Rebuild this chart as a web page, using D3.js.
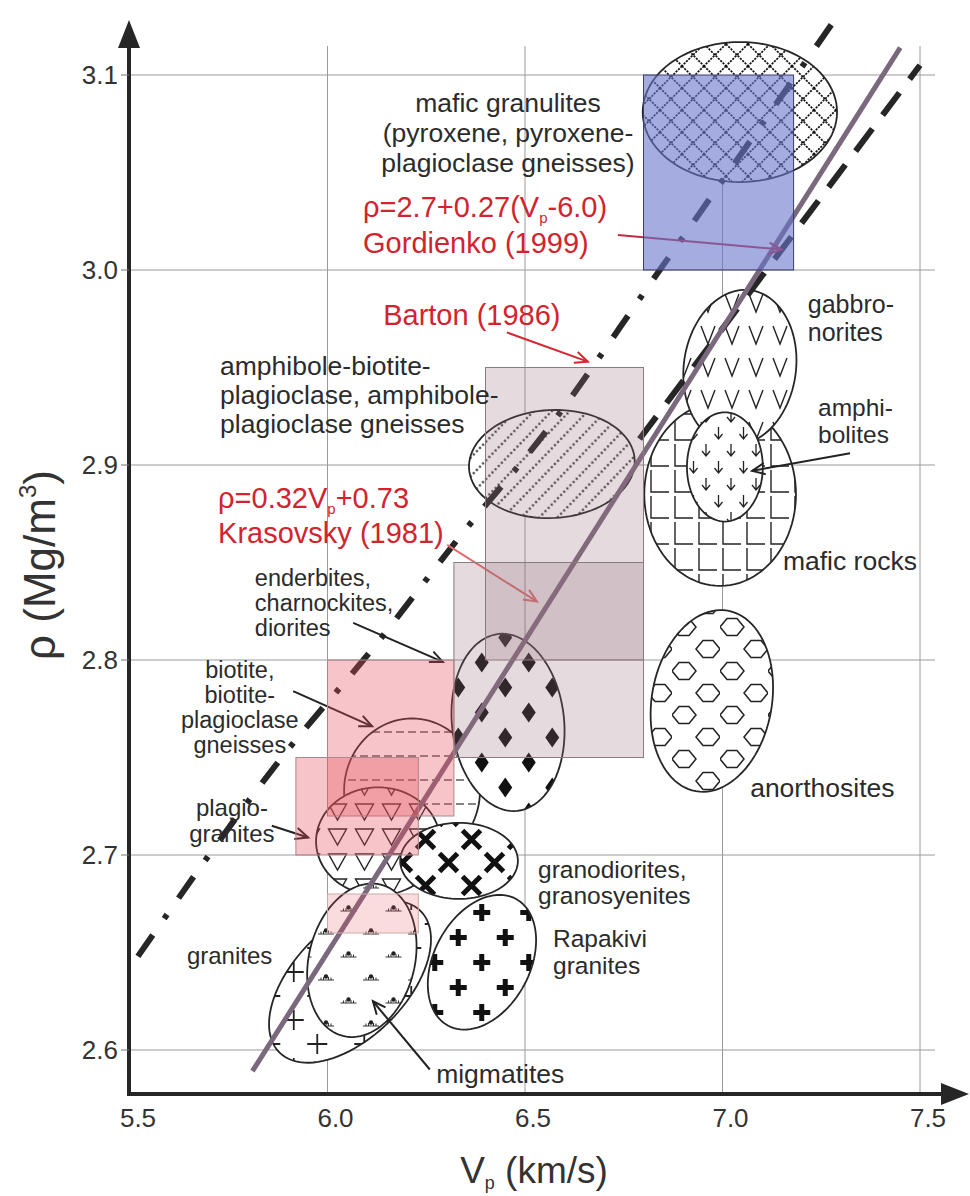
<!DOCTYPE html>
<html>
<head>
<meta charset="utf-8">
<script src="https://cdn.jsdelivr.net/npm/d3@7"></script>
<style>
  body { margin: 0; background: #fff; }
  text { font-family: "Liberation Sans", Arial, Helvetica, sans-serif; }
</style>
</head>
<body>
<svg id="chart" width="970" height="1196"></svg>
<script>
// ---- axes ----
const xTicks = [5.5, 6.0, 6.5, 7.0, 7.5];
const yTicks = [2.6, 2.7, 2.8, 2.9, 3.0, 3.1];
const xTickLabels = ["5.5", "6.0", "6.5", "7.0", "7.5"];
const yTickLabels = ["2.6", "2.7", "2.8", "2.9", "3.0", "3.1"];

// ---- rock fields (ellipses): centre, half-extent in Vp and rho, tilt in degrees ----
const fieldIds   = ["granulite", "mafic", "gabbro", "amphibolite", "anorthosite", "amphGneiss",
                    "biotite", "enderbite", "plagiogranite", "granite", "migmatite", "rapakivi", "granodiorite"];
const fieldVp    = [7.044, 6.994, 7.044, 7.006, 6.973, 6.568, 6.214, 6.457, 6.128, 6.057, 6.087, 6.391, 6.333];
const fieldRho   = [3.081, 2.885, 2.950, 2.899, 2.779, 2.9005, 2.733, 2.768, 2.707, 2.635, 2.646, 2.645, 2.697];
const fieldDVp   = [0.246, 0.192, 0.142, 0.096, 0.152, 0.210, 0.172, 0.142, 0.157, 0.253, 0.134, 0.182, 0.149];
const fieldDRho  = [0.0359, 0.047, 0.040, 0.028, 0.047, 0.0277, 0.037, 0.0456, 0.0277, 0.0287, 0.040, 0.0246, 0.0195];
const fieldTilt  = [0, 0, 8, 0, 10, -3, 0, -6, 0, -45, 14, -62, 0];

// ---- data ranges (boxes) ----
const boxIds    = ["maficGranulite", "barton", "gneissRange", "pink1", "pink2", "pink3"];
const boxVpMin  = [6.80, 6.40, 6.32, 6.00, 5.92, 6.00];
const boxVpMax  = [7.18, 6.80, 6.80, 6.32, 6.23, 6.23];
const boxRhoMin = [3.00, 2.80, 2.75, 2.72, 2.70, 2.66];
const boxRhoMax = [3.10, 2.95, 2.85, 2.80, 2.75, 2.68];

// ---- regressions ----
// Krasovsky (1981): rho = 0.32 Vp + 0.73
const krasovskyVp = [5.81, 7.45];
const krasovsky = vp => 0.32 * vp + 0.73;
// Gordienko (1999): rho = 2.7 + 0.27 (Vp - 6.0)
const gordienkoVp = [6.79, 7.50];
const gordienko = vp => 2.7 + 0.27 * (vp - 6.0);
// Barton (1986)
const bartonVp  = [5.52, 5.892, 6.115, 6.330, 6.556, 6.824, 7.297];
const bartonRho = [2.648, 2.752, 2.806, 2.862, 2.918, 2.995, 3.132];

// ---- labels ----
const labelLines = [
  ["mafic granulites", "(pyroxene, pyroxene-", "plagioclase gneisses)"],
  ["ρ=2.7+0.27(V|p|-6.0)", "Gordienko (1999)"],
  ["Barton (1986)"],
  ["amphibole-biotite-", "plagioclase, amphibole-", "plagioclase gneisses"],
  ["ρ=0.32V|p|+0.73", "Krasovsky (1981)"],
  ["enderbites,", "charnockites,", "diorites"],
  ["biotite,", "biotite-", "plagioclase", "gneisses"],
  ["plagio-", "granites"],
  ["granites"],
  ["migmatites"],
  ["Rapakivi", "granites"],
  ["granodiorites,", "granosyenites"],
  ["anorthosites"],
  ["mafic rocks"],
  ["amphi-", "bolites"],
  ["gabbro-", "norites"]
];
const labelVp  = [6.457, 6.090, 6.141, 5.728, 5.723, 5.816, 5.778, 5.758, 5.644, 6.275, 6.571, 6.533, 7.070, 7.153, 7.242, 7.216];
const labelRho = [3.081, 3.027, 2.972, 2.946, 2.878, 2.838, 2.791, 2.720, 2.644, 2.583, 2.653, 2.688, 2.730, 2.846, 2.925, 2.978];
const labelRed = [false, true, true, false, true, false, false, false, false, false, false, false, false, false, false, false];
const labelAnchor = ["middle", "start", "start", "start", "start", "start", "middle", "middle", "start", "start",
                     "start", "start", "start", "start", "start", "start"];
const labelLeading = [30, 36, 30, 29, 35, 25, 25, 26, 26, 26, 27, 26, 26, 26, 27, 28];
const labelSize = [26.5, 29, 29, 26.5, 29, 23.5, 23.5, 24, 24, 26.5, 24.5, 24.5, 26.5, 26.5, 24.5, 25];

// ---- pointer arrows (from -> to) ----
const arrowFromVp  = [6.735, 6.454, 6.303, 6.065, 5.913, 5.859, 6.259, 7.323];
const arrowFromRho = [3.018, 2.968, 2.859, 2.819, 2.784, 2.715, 2.590, 2.906];
const arrowToVp    = [7.15, 6.659, 6.530, 6.292, 6.113, 5.951, 6.115, 7.075];
const arrowToRho   = [gordienko(7.15), 2.953, 2.830, 2.799, 2.766, 2.709, 2.625, 2.897];
const arrowKind    = ["gordienko", "barton", "krasovsky", "plain", "plain", "plain", "plain", "plain"];

// ================= drawing =================
const svg = d3.select("#chart");
const x = d3.scaleLinear().domain([5.5, 7.5]).range([130, 920]);
const y = d3.scaleLinear().domain([2.6, 3.1]).range([1050, 75]);
const axisX = 129, axisY = 1094;
const ink = "#262626";

// ---------- fill patterns ----------
const defs = svg.append("defs");
function pattern(id, w, h, draw, transform) {
  const p = defs.append("pattern").attr("id", id)
    .attr("patternUnits", "userSpaceOnUse").attr("width", w).attr("height", h);
  if (transform) p.attr("patternTransform", transform);
  p.append("rect").attr("width", w).attr("height", h).attr("fill", "#fff");
  draw(p);
}
// crossed lattice
pattern("p-granulite", 22, 22, p => {
  p.append("path").attr("d", "M0,0L22,22M22,0L0,22M-1,21L1,23M21,-1L23,1")
    .attr("stroke", "#111").attr("stroke-width", 1.7).attr("fill", "none")
    .attr("stroke-dasharray", "2.2,1.1");
});
// Vs
pattern("p-gabbro", 24, 32, p => {
  p.append("path").attr("d", "M5,6L12,24L19,6").attr("stroke", "#222").attr("stroke-width", 1.4).attr("fill", "none");
});
// L marks
pattern("p-mafic", 24, 26, p => {
  p.append("path").attr("d", "M3,2V24H21").attr("stroke", "#222").attr("stroke-width", 1.4).attr("fill", "none");
});
// down arrows
pattern("p-amphibolite", 25, 34, p => {
  const a = "M0,-6V6M-4,1L0,6L4,1";
  p.append("path").attr("d", a).attr("transform", "translate(6,8)").attr("stroke", "#222").attr("stroke-width", 1.3).attr("fill", "none");
  p.append("path").attr("d", a).attr("transform", "translate(18.5,25)").attr("stroke", "#222").attr("stroke-width", 1.3).attr("fill", "none");
});
// hexagons
pattern("p-anorthosite", 48, 44, p => {
  const hx = "M-12,0L-5,-8.5L5,-8.5L12,0L5,8.5L-5,8.5Z";
  [[12, 11], [36, 33]].forEach(c =>
    p.append("path").attr("d", hx).attr("transform", `translate(${c[0]},${c[1]})`)
      .attr("stroke", "#222").attr("stroke-width", 1.5).attr("fill", "none"));
});
// dotted diagonal lines
pattern("p-amphGneiss", 4.5, 13, p => {
  p.append("circle").attr("cx", 2.25).attr("cy", 6.5).attr("r", 1.15).attr("fill", "#222");
}, "rotate(-46)");
// diamonds
pattern("p-enderbite", 47, 50, p => {
  const dm = "M0,-10L7,0L0,10L-7,0Z";
  [[11.75, 12.5], [35.25, 37.5]].forEach(c =>
    p.append("path").attr("d", dm).attr("transform", `translate(${c[0]},${c[1]})`).attr("fill", "#111"));
});
// dashes
pattern("p-biotite", 12, 24, p => {
  p.append("path").attr("d", "M0,12H8").attr("stroke", "#333").attr("stroke-width", 1.2);
});
// open triangles
pattern("p-plagiogranite", 27, 25, p => {
  p.append("path").attr("d", "M4.5,4L22.5,4L13.5,20Z").attr("stroke", "#222").attr("stroke-width", 1.4).attr("fill", "none");
});
// thin crosses
pattern("p-granite", 47, 48, p => {
  const pl = "M-10,0H10M0,-10V10";
  [[11.75, 12], [35.25, 36]].forEach(c =>
    p.append("path").attr("d", pl).attr("transform", `translate(${c[0]},${c[1]})`)
      .attr("stroke", "#222").attr("stroke-width", 1.8));
});
// migmatite marks
pattern("p-migmatite", 45, 46, p => {
  [[11, 11], [33.5, 34]].forEach(c => {
    const g = p.append("g").attr("transform", `translate(${c[0]},${c[1]})`);
    g.append("path").attr("d", "M-8,3H8M-5,3V0.5M5,3V0.5M-2.5,3V0M2.5,3V0")
      .attr("stroke", "#333").attr("stroke-width", 1);
    g.append("circle").attr("cx", 0).attr("cy", -0.5).attr("r", 2.2).attr("fill", "#222");
  });
});
// bold crosses
pattern("p-rapakivi", 47, 50, p => {
  const pl = "M-8.5,0H8.5M0,-8.5V8.5";
  [[11.75, 12.5], [35.25, 37.5]].forEach(c =>
    p.append("path").attr("d", pl).attr("transform", `translate(${c[0]},${c[1]})`)
      .attr("stroke", "#111").attr("stroke-width", 5));
});
// bold X
pattern("p-granodiorite", 46, 46, p => {
  const xx = "M-9,-9L9,9M9,-9L-9,9";
  [[11.5, 11.5], [34.5, 34.5]].forEach(c =>
    p.append("path").attr("d", xx).attr("transform", `translate(${c[0]},${c[1]})`)
      .attr("stroke", "#111").attr("stroke-width", 5));
});

// ---------- grid ----------
const grid = svg.append("g");
grid.selectAll("line.h").data(yTicks).join("line")
  .attr("x1", axisX).attr("x2", 935)
  .attr("y1", d => y(d)).attr("y2", d => y(d))
  .attr("stroke", "#9a9a9a").attr("stroke-width", 1);
grid.selectAll("line.v").data(xTicks.slice(1)).join("line")
  .attr("x1", d => x(d)).attr("x2", d => x(d))
  .attr("y1", 46).attr("y2", axisY)
  .attr("stroke", "#9a9a9a").attr("stroke-width", 1);

// ---------- rock fields ----------
function ellipsePath(i) {
  const cx = x(fieldVp[i]), cy = y(fieldRho[i]);
  const rx = x(fieldVp[i] + fieldDVp[i]) - cx;
  const ry = cy - y(fieldRho[i] + fieldDRho[i]);
  const t = fieldTilt[i] * Math.PI / 180;
  const p = d3.path();
  const n = 96;
  for (let k = 0; k <= n; k++) {
    const a = k / n * 2 * Math.PI;
    const ex = rx * Math.cos(a), ey = ry * Math.sin(a);
    const px = cx + ex * Math.cos(t) - ey * Math.sin(t);
    const py = cy + ex * Math.sin(t) + ey * Math.cos(t);
    if (k === 0) p.moveTo(px, py); else p.lineTo(px, py);
  }
  p.closePath();
  return p.toString();
}
const fields = svg.append("g");
fieldIds.forEach((id, i) => {
  fields.append("path").attr("d", ellipsePath(i))
    .attr("fill", `url(#p-${id})`)
    .attr("stroke", ink).attr("stroke-width", 1.8);
});

// ---------- regression lines ----------
const lines = svg.append("g");
lines.append("line")
  .attr("x1", x(gordienkoVp[0])).attr("y1", y(gordienko(gordienkoVp[0])))
  .attr("x2", x(gordienkoVp[1])).attr("y2", y(gordienko(gordienkoVp[1])))
  .attr("stroke", ink).attr("stroke-width", 6).attr("stroke-dasharray", "28,17");
lines.append("path")
  .datum(d3.range(bartonVp.length))
  .attr("d", d3.line().x(i => x(bartonVp[i])).y(i => y(bartonRho[i])).curve(d3.curveMonotoneX))
  .attr("fill", "none").attr("stroke", ink).attr("stroke-width", 6)
  .attr("stroke-dasharray", "26,20,5,20");
lines.append("line")
  .attr("x1", x(krasovskyVp[0])).attr("y1", y(krasovsky(krasovskyVp[0])))
  .attr("x2", x(krasovskyVp[1])).attr("y2", y(krasovsky(krasovskyVp[1])))
  .attr("stroke", "#7a687c").attr("stroke-width", 5);

// ---------- arrows ----------
const arrowColor = { gordienko: "#c42a45", barton: "#d8242f", krasovsky: "#e36b6b", plain: "#222" };
const arrows = svg.append("g");
function drawArrow(i) {
  const x1 = x(arrowFromVp[i]), y1 = y(arrowFromRho[i]);
  const x2 = x(arrowToVp[i]), y2 = y(arrowToRho[i]);
  const ang = Math.atan2(y2 - y1, x2 - x1);
  const L = 14, spread = 0.42;
  const c = arrowColor[arrowKind[i]];
  arrows.append("line").attr("x1", x1).attr("y1", y1).attr("x2", x2).attr("y2", y2)
    .attr("stroke", c).attr("stroke-width", 2);
  arrows.append("path")
    .attr("d", `M${x2 - L * Math.cos(ang - spread)},${y2 - L * Math.sin(ang - spread)}L${x2},${y2}L${x2 - L * Math.cos(ang + spread)},${y2 - L * Math.sin(ang + spread)}`)
    .attr("stroke", c).attr("stroke-width", 2).attr("fill", "none");
}
arrowFromVp.forEach((_, i) => drawArrow(i));

// ---------- range boxes (translucent) ----------
const boxFill = ["#6775cb", "#96707a", "#96707a", "#e6505a", "#e6505a", "#e6505a"];
const boxOpacity = [0.6, 0.25, 0.25, 0.33, 0.33, 0.2];
const boxStroke = ["#3a3f66", "#8a7c7e", "#8a7c7e", "#a88", "#a88", "#caa"];
const boxes = svg.append("g");
boxIds.forEach((id, i) => {
  boxes.append("rect")
    .attr("x", x(boxVpMin[i])).attr("y", y(boxRhoMax[i]))
    .attr("width", x(boxVpMax[i]) - x(boxVpMin[i]))
    .attr("height", y(boxRhoMin[i]) - y(boxRhoMax[i]))
    .attr("fill", boxFill[i]).attr("fill-opacity", boxOpacity[i])
    .attr("stroke", boxStroke[i]).attr("stroke-width", 1);
});

// ---------- labels ----------
const labels = svg.append("g");
labelLines.forEach((ls, i) => {
  const red = labelRed[i];
  const t = labels.append("text")
    .attr("x", x(labelVp[i])).attr("y", y(labelRho[i]))
    .attr("text-anchor", labelAnchor[i])
    .attr("fill", red ? "#d2232e" : "#2b2b2b")
    .attr("font-size", labelSize[i]);
  ls.forEach((line, j) => {
    const parts = line.split("|");
    t.append("tspan").attr("x", x(labelVp[i])).attr("dy", j === 0 ? 0 : labelLeading[i]).text(parts[0]);
    if (parts.length === 3) {
      t.append("tspan").attr("font-size", 15).attr("dy", 6).text(parts[1]);
      t.append("tspan").attr("dy", -6).text(parts[2]);
    }
  });
});

// ---------- axes ----------
const axes = svg.append("g");
axes.append("line").attr("x1", axisX).attr("y1", axisY + 2).attr("x2", axisX).attr("y2", 40)
  .attr("stroke", ink).attr("stroke-width", 4);
axes.append("path").attr("d", `M${axisX},20L${axisX - 11},48L${axisX + 11},48Z`).attr("fill", ink);
axes.append("line").attr("x1", axisX - 2).attr("y1", axisY).attr("x2", 948).attr("y2", axisY)
  .attr("stroke", ink).attr("stroke-width", 4);
axes.append("path").attr("d", `M969,${axisY}L941,${axisY - 11}L941,${axisY + 11}Z`).attr("fill", ink);

// y ticks
axes.selectAll("line.yt").data(yTicks).join("line")
  .attr("x1", axisX - 8).attr("x2", axisX).attr("y1", d => y(d)).attr("y2", d => y(d))
  .attr("stroke", "#777").attr("stroke-width", 1);
axes.selectAll("text.yl").data(yTicks).join("text")
  .attr("x", 118).attr("y", d => y(d) + 9)
  .attr("text-anchor", "end").attr("font-size", 26).attr("fill", "#333")
  .text((d, i) => yTickLabels[i]);
axes.selectAll("text.xl").data(xTicks).join("text")
  .attr("x", d => x(d) + 8).attr("y", 1127)
  .attr("text-anchor", "middle").attr("font-size", 26).attr("fill", "#333")
  .text((d, i) => xTickLabels[i]);

// axis titles
const xt = axes.append("text").attr("x", 534).attr("y", 1183).attr("text-anchor", "middle")
  .attr("font-size", 37).attr("fill", "#333");
xt.append("tspan").text("V");
xt.append("tspan").attr("font-size", 18).attr("dy", 6).text("p");
xt.append("tspan").attr("dy", -6).text(" (km/s)");

const yt = axes.append("text").attr("transform", "translate(55,565) rotate(-90)")
  .attr("text-anchor", "middle").attr("font-size", 44).attr("fill", "#333");
yt.append("tspan").text("ρ (Mg/m");
yt.append("tspan").attr("font-size", 24).attr("dy", -19).text("3");
yt.append("tspan").attr("dy", 19).text(")");
</script>
</body>
</html>
